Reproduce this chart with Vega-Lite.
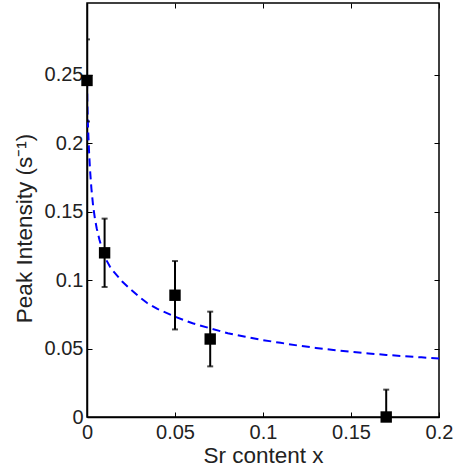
{
  "$schema": "https://vega.github.io/schema/vega-lite/v6.json",
  "width": 352,
  "height": 414,
  "autosize": "none",
  "padding": {"left": 87, "top": 3, "right": 14, "bottom": 50},
  "background": "white",
  "config": {
    "font": "Liberation Sans",
    "view": {"stroke": "black", "strokeWidth": 1.5},
    "axis": {
      "domainColor": "black",
      "domainWidth": 1.5,
      "tickColor": "black",
      "tickWidth": 1,
      "tickSize": -5,
      "labelColor": "#222222",
      "labelFont": "Liberation Sans",
      "labelFontSize": 20,
      "labelFlush": false,
      "titleFont": "Liberation Sans",
      "titleFontSize": 22.5,
      "titleFontWeight": "normal",
      "titleColor": "#222222",
      "grid": false
    }
  },
  "datasets": {
    "pts": [
      {"x": 0, "y": 0.246, "lo": 0.216, "hi": 0.276},
      {"x": 0.01, "y": 0.12, "lo": 0.095, "hi": 0.145},
      {"x": 0.05, "y": 0.089, "lo": 0.064, "hi": 0.114},
      {"x": 0.07, "y": 0.057, "lo": 0.037, "hi": 0.077},
      {"x": 0.17, "y": 0, "lo": -0.02, "hi": 0.02}
    ],
    "curve": [
      {"x": 0, "y": 0.246},
      {"x": 0.0002, "y": 0.229},
      {"x": 0.0005, "y": 0.215},
      {"x": 0.0008, "y": 0.205},
      {"x": 0.0012, "y": 0.193},
      {"x": 0.0017, "y": 0.181},
      {"x": 0.0025, "y": 0.167},
      {"x": 0.0035, "y": 0.154},
      {"x": 0.0045, "y": 0.145},
      {"x": 0.0055, "y": 0.138},
      {"x": 0.007, "y": 0.130},
      {"x": 0.0085, "y": 0.123},
      {"x": 0.01, "y": 0.117},
      {"x": 0.013, "y": 0.110},
      {"x": 0.015, "y": 0.1065},
      {"x": 0.02, "y": 0.099},
      {"x": 0.025, "y": 0.093},
      {"x": 0.03, "y": 0.0875},
      {"x": 0.034, "y": 0.0835},
      {"x": 0.04, "y": 0.079},
      {"x": 0.05, "y": 0.0733},
      {"x": 0.06, "y": 0.0685},
      {"x": 0.07, "y": 0.0648},
      {"x": 0.08, "y": 0.0612},
      {"x": 0.09, "y": 0.0587},
      {"x": 0.10, "y": 0.0562},
      {"x": 0.11, "y": 0.0542},
      {"x": 0.12, "y": 0.0522},
      {"x": 0.13, "y": 0.0505},
      {"x": 0.14, "y": 0.049},
      {"x": 0.15, "y": 0.0477},
      {"x": 0.16, "y": 0.0465},
      {"x": 0.17, "y": 0.0454},
      {"x": 0.18, "y": 0.0444},
      {"x": 0.19, "y": 0.0436},
      {"x": 0.2, "y": 0.0428}
    ]
  },
  "resolve": {"axis": {"x": "independent", "y": "independent"}},
  "layer": [
    {
      "data": {"name": "pts"},
      "mark": {"type": "point", "opacity": 0},
      "encoding": {
        "x": {"field": "x", "type": "quantitative", "scale": {"domain": [0, 0.2], "nice": false, "zero": false},
          "axis": {"orient": "top", "values": [0, 0.05, 0.1, 0.15, 0.2], "labels": false, "domain": false, "title": null}},
        "y": {"field": "y", "type": "quantitative", "scale": {"domain": [0, 0.3026], "nice": false, "zero": false},
          "axis": {"orient": "right", "values": [0, 0.05, 0.1, 0.15, 0.2, 0.25], "labels": false, "domain": false, "title": null}}
      }
    },
    {
      "data": {"name": "curve"},
      "mark": {"type": "line", "color": "#0000ff", "strokeWidth": 2, "strokeDash": [8, 5], "clip": true},
      "encoding": {
        "x": {"field": "x", "type": "quantitative",
          "axis": {"orient": "bottom", "values": [0, 0.05, 0.1, 0.15, 0.2], "labelExpr": "format(datum.value, '~g')", "labelPadding": 10, "title": "Sr content x", "titlePadding": 2}},
        "y": {"field": "y", "type": "quantitative",
          "axis": {"orient": "left", "values": [0, 0.05, 0.1, 0.15, 0.2, 0.25], "labelExpr": "format(datum.value, '~g')", "labelPadding": 9, "title": "Peak Intensity (s⁻¹)", "titlePadding": 8, "titleY": 225}}
      }
    },
    {
      "data": {"name": "pts"},
      "mark": {"type": "rule", "color": "black", "strokeWidth": 2, "clip": true},
      "encoding": {
        "x": {"field": "x", "type": "quantitative", "axis": null},
        "y": {"field": "lo", "type": "quantitative", "axis": null},
        "y2": {"field": "hi"}
      }
    },
    {
      "data": {"name": "pts"},
      "mark": {"type": "tick", "color": "black", "orient": "horizontal", "size": 6, "thickness": 2, "clip": true},
      "encoding": {
        "x": {"field": "x", "type": "quantitative", "axis": null},
        "y": {"field": "hi", "type": "quantitative", "axis": null}
      }
    },
    {
      "data": {"name": "pts"},
      "mark": {"type": "tick", "color": "black", "orient": "horizontal", "size": 6, "thickness": 2, "clip": true},
      "encoding": {
        "x": {"field": "x", "type": "quantitative", "axis": null},
        "y": {"field": "lo", "type": "quantitative", "axis": null}
      }
    },
    {
      "data": {"name": "pts"},
      "mark": {"type": "square", "color": "black", "opacity": 1, "size": 130},
      "encoding": {
        "x": {"field": "x", "type": "quantitative", "axis": null},
        "y": {"field": "y", "type": "quantitative", "axis": null}
      }
    }
  ]
}
